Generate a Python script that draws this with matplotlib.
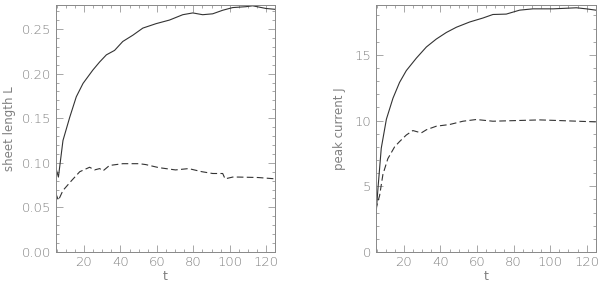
import matplotlib
matplotlib.use("Agg")
import matplotlib.pyplot as plt
from matplotlib.ticker import MultipleLocator

# left panel: sheet length L
t_len_solid = [4.5, 6, 8.5, 12.2, 15.8, 19.5, 24.9, 28.6, 32.3, 36.8, 41.3, 46.8, 52.3,
               59.6, 66.9, 74.2, 79.7, 85.1, 90.6, 96.1, 101.6, 108.9, 112.5, 119.8, 125]
len_solid = [0.095, 0.084, 0.125, 0.151, 0.174, 0.189, 0.204, 0.213, 0.221, 0.226, 0.236,
             0.243, 0.251, 0.256, 0.260, 0.266, 0.268, 0.266, 0.267, 0.271, 0.274, 0.275,
             0.276, 0.273, 0.272]
t_len_dash = [4.5, 6, 8.5, 13.2, 17.7, 23.1, 25.8, 28.6, 30.5, 34, 41.3, 50.3, 53.9, 61,
              70.2, 77.4, 84.7, 90.6, 96.1, 97.4, 101.6, 104.7, 115.5, 125]
len_dash = [0.066, 0.058, 0.069, 0.080, 0.090, 0.095, 0.092, 0.0935, 0.091, 0.097, 0.099,
            0.099, 0.098, 0.0946, 0.092, 0.0935, 0.090, 0.088, 0.088, 0.082, 0.084, 0.084,
            0.0835, 0.082]

# right panel: peak current J
t_cur_solid = [4.5, 5.8, 7.6, 10.4, 14, 17.6, 21.3, 26.8, 32.3, 37.7, 43.2, 48.7, 56,
               63.2, 68.7, 76, 83.3, 90.6, 101.6, 114.4, 119.8, 125]
cur_solid = [2.4, 4.85, 7.9, 10.1, 11.7, 12.9, 13.8, 14.75, 15.6, 16.2, 16.7, 17.1, 17.5,
             17.8, 18.07, 18.1, 18.4, 18.5, 18.5, 18.58, 18.5, 18.4]
t_cur_dash = [4.5, 6.7, 8.5, 11.2, 14.9, 17.6, 21.3, 24.9, 29.5, 32.3, 37.7, 45, 52.3,
              59.6, 68.7, 81.5, 94.3, 105.2, 125]
cur_dash = [3.2, 4.3, 5.9, 7.1, 8.0, 8.4, 8.9, 9.24, 9.06, 9.3, 9.57, 9.7, 9.95, 10.08,
            9.95, 10.0, 10.05, 10.0, 9.9]

line_col = "#333333"
txt_col = "#808080"

plt.rcParams["font.family"] = ["DejaVu Sans"]
plt.rcParams["font.weight"] = "light"

fig = plt.figure(figsize=(6, 2.88), dpi=100)
ax1 = fig.add_axes([0.0928, 0.125, 0.3662, 0.858])
ax2 = fig.add_axes([0.626, 0.125, 0.367, 0.858])

ax1.plot(t_len_solid, len_solid, color=line_col, lw=0.8)
ax1.plot(t_len_dash, len_dash, color=line_col, lw=0.8, dashes=(6, 3))
ax1.set_ylim(0, 0.277)
ax1.yaxis.set_major_locator(MultipleLocator(0.05))
ax1.yaxis.set_minor_locator(MultipleLocator(0.01))
ax1.yaxis.set_major_formatter(plt.FormatStrFormatter("%.2f"))
ax1.set_ylabel("sheet length L", color=txt_col, fontsize=8.5, labelpad=4)

ax2.plot(t_cur_solid, cur_solid, color=line_col, lw=0.8)
ax2.plot(t_cur_dash, cur_dash, color=line_col, lw=0.8, dashes=(6, 3))
ax2.set_ylim(0, 18.8)
ax2.yaxis.set_major_locator(MultipleLocator(5))
ax2.yaxis.set_minor_locator(MultipleLocator(1))
ax2.set_ylabel("peak current J", color=txt_col, fontsize=8.5, labelpad=6)

for ax in (ax1, ax2):
    ax.set_xlim(4.5, 125)
    ax.xaxis.set_major_locator(MultipleLocator(20))
    ax.xaxis.set_minor_locator(MultipleLocator(5))
    ax.set_xlabel("t", color=txt_col, fontsize=9, labelpad=1)
    ax.tick_params(which="both", direction="in", top=True, right=True,
                   color="#999999", width=0.6, labelcolor=txt_col, labelsize=9.5)
    ax.tick_params(which="major", length=5, pad=3)
    ax.tick_params(which="minor", length=2.5)
    for s in ax.spines.values():
        s.set_color("#888888")
        s.set_linewidth(0.7)

fig.savefig("out.png", dpi=100)
